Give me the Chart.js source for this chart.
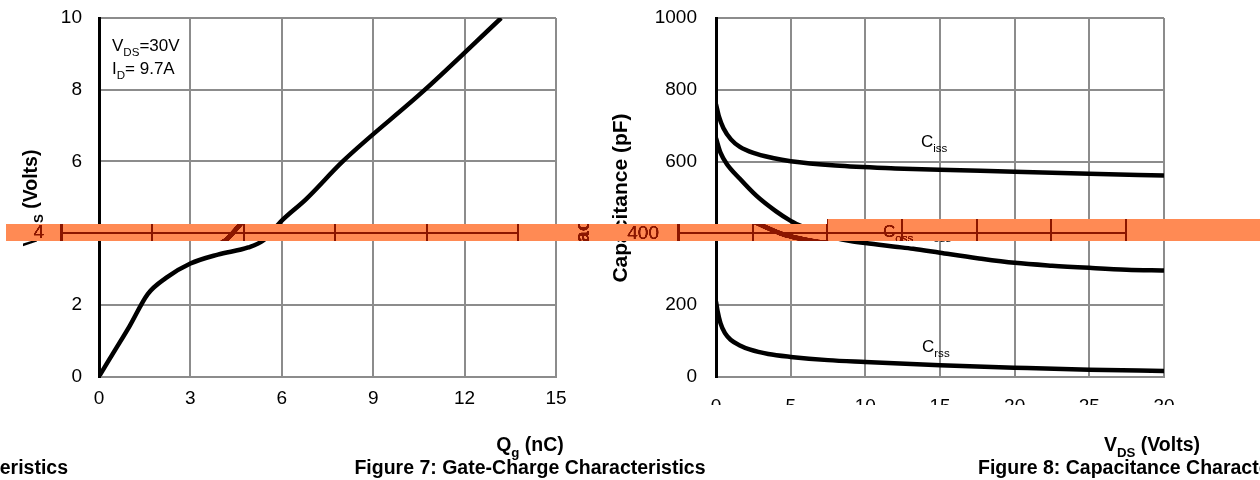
<!DOCTYPE html>
<html>
<head>
<meta charset="utf-8">
<script src="https://cdn.jsdelivr.net/npm/chart.js@4/dist/chart.umd.min.js"></script>
<style>
  body { margin: 0; background: #fff; }
  #wrap { position: relative; width: 1260px; height: 480px; }
  #wrap canvas { position: absolute; left: 0; top: 0; }
</style>
</head>
<body>
<div id="wrap">
  <canvas id="chart-gate" width="1260" height="480"></canvas>
  <canvas id="chart-cap" width="1260" height="480"></canvas>
  <canvas id="band" width="1260" height="480"></canvas>
</div>
<script>
// Figura 7 — carga de puerta
const gateQ = [0, 0.5, 1.0, 1.6, 2.2, 3.0, 3.9, 4.9, 5.4, 6.0, 6.8, 8.0, 10.7, 13.2];
const gateV = [0, 0.7, 1.4, 2.3, 2.75, 3.15, 3.4, 3.6, 3.8, 4.35, 4.95, 6.0, 8.0, 10.0];
const gateXTicks = [0, 3, 6, 9, 12, 15];
const gateYTicks = [0, 2, 4, 6, 8, 10];

// Figura 8 — capacidades
const cissV = [0, 0.2, 0.5, 1, 1.6, 2.5, 3.8, 5, 8, 12, 15, 20, 25, 30];
const cissC = [760, 725, 693, 662, 641, 624, 610, 601, 589, 581, 577, 572, 566, 561];
const cossV = [0, 0.3, 0.7, 1.6, 2.7, 4, 5, 6, 7, 8, 9, 10, 12, 13.2, 15, 17.5, 20, 22.5, 25, 27.5, 30];
const cossC = [665, 625, 595, 552, 505, 462, 435, 415, 398, 387, 379, 373, 363, 357, 346, 331, 318, 310, 304, 299, 297];
const crssV = [0, 0.1, 0.3, 0.6, 1, 1.6, 2.3, 3.5, 5, 7.5, 10, 15, 20, 25, 30];
const crssC = [210, 185, 150, 122, 103, 88, 76, 64, 56, 47, 42, 33, 26, 20, 17];
const capXTicks = [0, 5, 10, 15, 20, 25, 30];
const capYTicks = [0, 200, 400, 600, 800, 1000];

const FONT = "'Liberation Sans', Arial, sans-serif";
const GRID = '#8c8c8c';

const pts = (xs, ys) => xs.map((x, i) => ({ x: x, y: ys[i] }));

// texto con subíndices: parts = [['V',0],['DS',1],...]
function subText(ctx, parts, x, y, size, bold, align) {
    const w = bold ? 'bold ' : '';
    let total = 0;
    parts.forEach(p => {
        ctx.font = w + (p[1] ? size * 0.68 : size) + 'px ' + FONT;
        total += ctx.measureText(p[0]).width;
    });
    let cx = align === 'center' ? x - total / 2 : align === 'right' ? x - total : x;
    ctx.textAlign = 'left';
    ctx.textBaseline = 'alphabetic';
    parts.forEach(p => {
        ctx.font = w + (p[1] ? size * 0.68 : size) + 'px ' + FONT;
        ctx.fillText(p[0], cx, y + (p[1] ? size * 0.3 : 0));
        cx += ctx.measureText(p[0]).width;
    });
}

function rotText(ctx, parts, x, y, size) {
    ctx.save();
    ctx.translate(x, y);
    ctx.rotate(-Math.PI / 2);
    subText(ctx, parts, 0, size * 0.35, size, true, 'center');
    ctx.restore();
}

function lineDataset(data) {
    return {
        data: data,
        borderColor: '#000',
        borderWidth: 4.5,
        pointRadius: 0,
        cubicInterpolationMode: 'monotone',
        fill: false,
    };
}

function axisOpts(min, max, ticks, pad, fixed, isY) {
    return {
        type: 'linear', min: min, max: max,
        afterBuildTicks: s => { s.ticks = ticks.map(v => ({ value: v })); },
        afterFit: s => {
            if (isY) { s.width = fixed; s.paddingTop = 0; s.paddingBottom = 0; }
            else s.height = fixed;
        },
        ticks: { color: '#000', font: { family: FONT, size: 19 }, padding: pad, maxRotation: 0, callback: v => String(v) },
        grid: { color: GRID, lineWidth: 2, drawTicks: false },
        border: isY ? { color: '#000', width: 3 } : { color: GRID, width: 2 },
    };
}

const baseOptions = {
    responsive: false,
    animation: false,
    devicePixelRatio: 1,
    plugins: { legend: { display: false }, tooltip: { enabled: false } },
};

// 1. Carga de puerta
const gateText = {
    id: 'gateText',
    afterDraw(chart) {
        const ctx = chart.ctx;
        ctx.save();
        ctx.fillStyle = '#000';
        subText(ctx, [['V', 0], ['DS', 1], ['=30V', 0]], 112, 51, 17, false, 'left');
        subText(ctx, [['I', 0], ['D', 1], ['= 9.7A', 0]], 112, 74, 17, false, 'left');
        rotText(ctx, [['V', 0], ['GS', 1], [' (Volts)', 0]], 30, 198, 19.5);
        subText(ctx, [['Q', 0], ['g', 1], [' (nC)', 0]], 530, 451, 19.5, true, 'center');
        subText(ctx, [['Figure 7: Gate-Charge Characteristics', 0]], 530, 474, 19.5, true, 'center');
        subText(ctx, [['Characteristics', 0]], 68, 474, 19.5, true, 'right');
        ctx.restore();
    }
};

const gateChart = new Chart(document.getElementById('chart-gate'), {
    type: 'line',
    data: { datasets: [lineDataset(pts(gateQ, gateV))] },
    options: {
        ...baseOptions,
        layout: { padding: { left: 0, top: 18, right: 704, bottom: 73.5 } },
        scales: {
            x: axisOpts(0, 15, gateXTicks, 11, 30, false),
            y: axisOpts(0, 10, gateYTicks, 17, 99, true),
        },
    },
    plugins: [gateText],
});

// 2. Capacidades
const capText = {
    id: 'capText',
    afterDraw(chart) {
        const ctx = chart.ctx;
        ctx.save();
        ctx.fillStyle = '#fff';
        ctx.fillRect(640, 405, 620, 22);
        ctx.fillStyle = '#000';
        subText(ctx, [['C', 0], ['iss', 1]], 921, 147, 17, false, 'left');
        subText(ctx, [['C', 0], ['oss', 1]], 921, 237, 17, false, 'left');
        subText(ctx, [['C', 0], ['rss', 1]], 922, 352, 17, false, 'left');
        rotText(ctx, [['Capacitance (pF)', 0]], 620, 198, 21);
        subText(ctx, [['V', 0], ['DS', 1], [' (Volts)', 0]], 1152, 451, 19.5, true, 'center');
        subText(ctx, [['Figure 8: Capacitance Characteristics', 0]], 978, 474, 19.5, true, 'left');
        ctx.restore();
    }
};

const capChart = new Chart(document.getElementById('chart-cap'), {
    type: 'line',
    data: {
        datasets: [
            lineDataset(pts(cissV, cissC)),
            lineDataset(pts(cossV, cossC)),
            lineDataset(pts(crssV, crssC)),
        ]
    },
    options: {
        ...baseOptions,
        layout: { padding: { left: 656, top: 18, right: 96, bottom: 73 } },
        scales: {
            x: axisOpts(0, 30, capXTicks, 18, 30, false),
            y: axisOpts(0, 1000, capYTicks, 19, 60, true),
        },
    },
    plugins: [capText],
});

// 3. Franja naranja: copia desplazada de la imagen, recoloreada
const SHIFT = 38;
const ORANGE = [255, 138, 84];
const DARK = [139, 22, 0];
const bandRows = [[6, 827, 224, 241], [827, 1260, 219, 241]];

function makeBand() {
    const W = 1260, H = 480;
    const off = document.createElement('canvas');
    off.width = W; off.height = H;
    const octx = off.getContext('2d');
    octx.fillStyle = '#fff';
    octx.fillRect(0, 0, W, H);
    octx.drawImage(gateChart.canvas, 0, 0);
    octx.drawImage(capChart.canvas, 0, 0);
    const src = octx.getImageData(0, 0, W, H).data;
    const ctx = document.getElementById('band').getContext('2d');
    const img = ctx.createImageData(W, H);
    bandRows.forEach(([x0, x1, y0, y1]) => {
        for (let y = y0; y < y1; y++) {
            for (let x = x0; x < x1; x++) {
                const sx = x + SHIFT;
                let lum = 1;
                if (sx < W) {
                    const k = (y * W + sx) * 4;
                    lum = (src[k] * 0.299 + src[k + 1] * 0.587 + src[k + 2] * 0.114) / 255;
                }
                const t = Math.max(0, Math.min(1, (lum - 0.55) / 0.4));
                const d = (y * W + x) * 4;
                for (let c = 0; c < 3; c++) img.data[d + c] = Math.round(DARK[c] + (ORANGE[c] - DARK[c]) * t);
                img.data[d + 3] = 255;
            }
        }
    });
    ctx.putImageData(img, 0, 0);
}
makeBand();
</script>
</body>
</html>
